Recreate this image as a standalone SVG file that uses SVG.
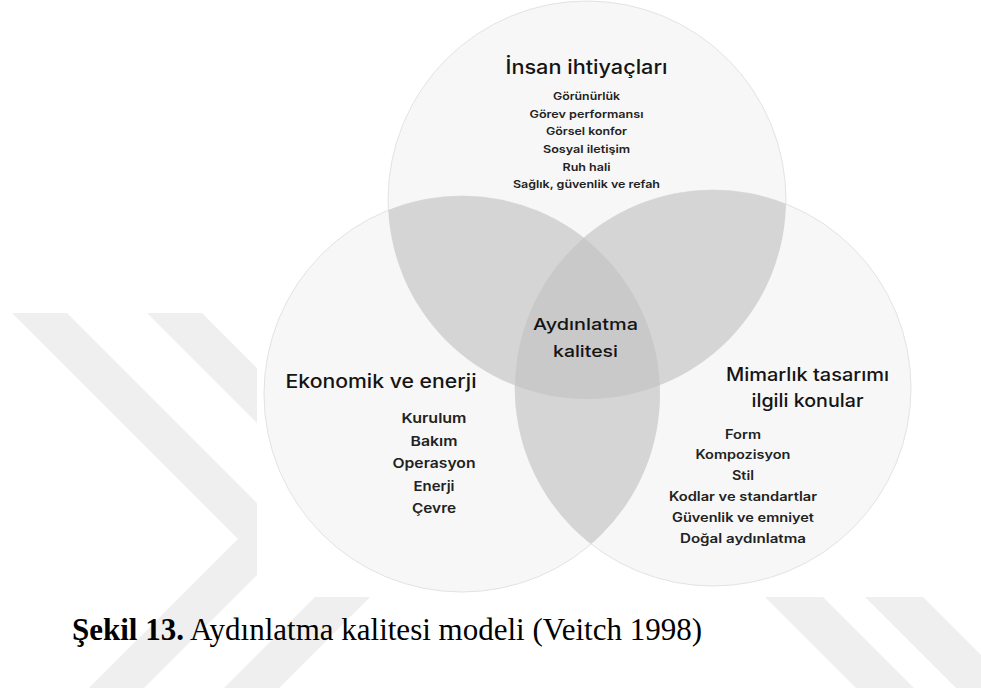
<svg xmlns="http://www.w3.org/2000/svg" width="981" height="688" viewBox="0 0 981 688">
<defs>
<style>
.wm{fill:#efefef}
.c{fill:#f7f7f7;stroke:#e3e3e3;stroke-width:1}
.pair{fill:#d5d5d5}
.tri{fill:#c9c9c9}
.h{font-family:Inter,"Open Sans",sans-serif;font-weight:500;fill:#141414;text-anchor:middle}
.i{font-family:Inter,"Open Sans",sans-serif;font-weight:600;fill:#222222;text-anchor:middle}
.cap{font-family:"Liberation Serif","Times New Roman",serif;font-size:31px;fill:#000}
</style>
<clipPath id="cA"><circle cx="587" cy="200" r="199"/></clipPath>
<clipPath id="cB"><circle cx="462" cy="394" r="198"/></clipPath>
<clipPath id="cC"><circle cx="713" cy="388" r="198"/></clipPath>
</defs>
<rect width="981" height="688" fill="#ffffff"/>
<g id="watermark">
<polygon class="wm" points="12,313 67,313 293,539 144,688 89,688 238,539"/>
<polygon class="wm" points="147,313 202,313 428,539 279,688 224,688 373,539"/>
<polygon class="wm" points="765,597 823,597 914,688 856,688"/>
<polygon class="wm" points="865,597 923,597 1014,688 956,688"/>
</g>
<rect x="257" y="0" width="724" height="597" fill="#ffffff"/>
<g id="venn">
<g id="circle-human"><circle class="c" cx="587" cy="200" r="199"/></g>
<g id="circle-economic"><circle class="c" cx="462" cy="394" r="198"/></g>
<g id="circle-architecture"><circle class="c" cx="713" cy="388" r="198"/></g>
<g id="overlaps">
<circle class="pair" cx="462" cy="394" r="198" clip-path="url(#cA)"/>
<circle class="pair" cx="713" cy="388" r="198" clip-path="url(#cA)"/>
<circle class="pair" cx="713" cy="388" r="198" clip-path="url(#cB)"/>
<g clip-path="url(#cA)"><circle class="tri" cx="713" cy="388" r="198" clip-path="url(#cB)"/></g>
</g>
</g>
<g id="connectors"></g>
<g id="node-human">
<text class="h" x="586.5" y="74" font-size="19.5" textLength="162" lengthAdjust="spacingAndGlyphs">İnsan ihtiyaçları</text>
<text class="i" x="586.5" y="99.5" font-size="10.8" textLength="67" lengthAdjust="spacingAndGlyphs">Görünürlük</text>
<text class="i" x="586.5" y="117.5" font-size="10.8" textLength="114" lengthAdjust="spacingAndGlyphs">Görev performansı</text>
<text class="i" x="586.5" y="135" font-size="10.8" textLength="81" lengthAdjust="spacingAndGlyphs">Görsel konfor</text>
<text class="i" x="586.5" y="152.7" font-size="10.8" textLength="87" lengthAdjust="spacingAndGlyphs">Sosyal iletişim</text>
<text class="i" x="586.5" y="170.7" font-size="10.8" textLength="48" lengthAdjust="spacingAndGlyphs">Ruh hali</text>
<text class="i" x="586.5" y="188.3" font-size="10.8" textLength="147" lengthAdjust="spacingAndGlyphs">Sağlık, güvenlik ve refah</text>
</g>
<g id="node-center">
<text class="h" x="585.5" y="330" font-size="16.5" textLength="105" lengthAdjust="spacingAndGlyphs">Aydınlatma</text>
<text class="h" x="585.5" y="356.5" font-size="16.5" textLength="65" lengthAdjust="spacingAndGlyphs">kalitesi</text>
</g>
<g id="node-economic">
<text class="h" x="381" y="388" font-size="18.5" textLength="191" lengthAdjust="spacingAndGlyphs">Ekonomik ve enerji</text>
<text class="i" x="434" y="423.3" font-size="13.6" textLength="65" lengthAdjust="spacingAndGlyphs">Kurulum</text>
<text class="i" x="434" y="446" font-size="13.6" textLength="47" lengthAdjust="spacingAndGlyphs">Bakım</text>
<text class="i" x="434" y="468.3" font-size="13.6" textLength="83" lengthAdjust="spacingAndGlyphs">Operasyon</text>
<text class="i" x="434" y="491" font-size="13.6" textLength="41" lengthAdjust="spacingAndGlyphs">Enerji</text>
<text class="i" x="434" y="513.3" font-size="13.6" textLength="44" lengthAdjust="spacingAndGlyphs">Çevre</text>
</g>
<g id="node-architecture">
<text class="h" x="807.5" y="380.7" font-size="18" textLength="163" lengthAdjust="spacingAndGlyphs">Mimarlık tasarımı</text>
<text class="h" x="807.5" y="406.5" font-size="18" textLength="112" lengthAdjust="spacingAndGlyphs">ilgili konular</text>
<text class="i" x="743" y="438.5" font-size="12.5" textLength="36" lengthAdjust="spacingAndGlyphs">Form</text>
<text class="i" x="743" y="459.3" font-size="12.5" textLength="95" lengthAdjust="spacingAndGlyphs">Kompozisyon</text>
<text class="i" x="743" y="480.1" font-size="12.5" textLength="22" lengthAdjust="spacingAndGlyphs">Stil</text>
<text class="i" x="743" y="500.9" font-size="12.5" textLength="148" lengthAdjust="spacingAndGlyphs">Kodlar ve standartlar</text>
<text class="i" x="743" y="521.7" font-size="12.5" textLength="142" lengthAdjust="spacingAndGlyphs">Güvenlik ve emniyet</text>
<text class="i" x="743" y="542.5" font-size="12.5" textLength="126" lengthAdjust="spacingAndGlyphs">Doğal aydınlatma</text>
</g>
<text class="cap" x="72" y="640"><tspan font-weight="bold">Şekil 13.</tspan> Aydınlatma kalitesi modeli (Veitch 1998)</text>
</svg>
